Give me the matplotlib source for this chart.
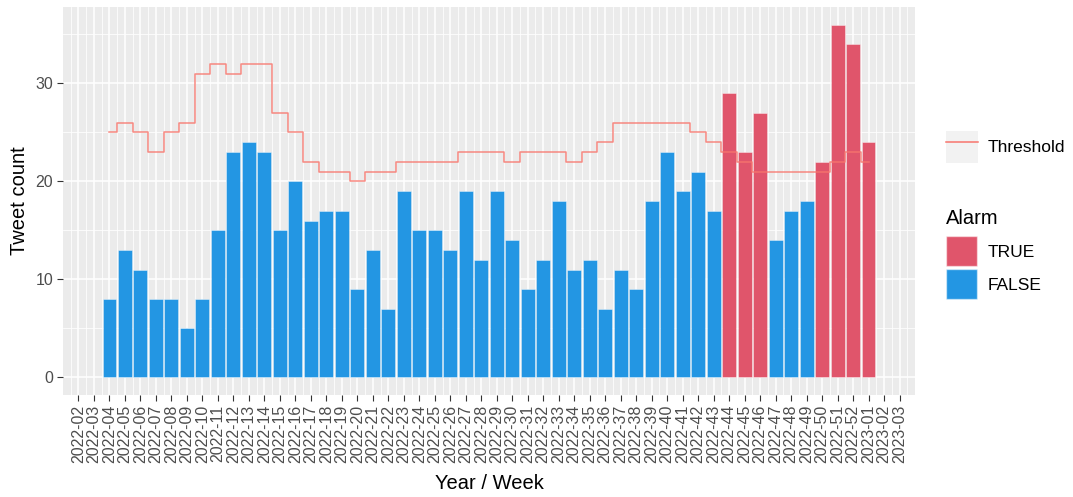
import matplotlib
matplotlib.use("Agg")
import matplotlib.pyplot as plt
from matplotlib.lines import Line2D
from matplotlib.patches import Patch
from matplotlib.ticker import MultipleLocator

# week categories shown on the axis
weeks = ([f"2022-{w:02d}" for w in range(2, 53)]
         + ["2023-01", "2023-02", "2023-03"])

# weeks with data (2022-04 .. 2023-01)
data_weeks = [f"2022-{w:02d}" for w in range(4, 53)] + ["2023-01"]

tweets = [8, 13, 11, 8, 8, 5, 8, 15, 23, 24, 23, 15, 20, 16, 17, 17, 9, 13, 7, 19,
          15, 15, 13, 19, 12, 19, 14, 9, 12, 18, 11, 12, 7, 11, 9, 18, 23, 19, 21, 17,
          29, 23, 27, 14, 17, 18, 22, 36, 34, 24]

threshold = [25, 26, 25, 23, 25, 26, 31, 32, 31, 32, 32, 27, 25, 22, 21, 21, 20, 21, 21, 22,
             22, 22, 22, 23, 23, 23, 22, 23, 23, 23, 22, 23, 24, 26, 26, 26, 26, 26, 25, 24,
             23, 22, 21, 21, 21, 21, 21, 22, 23, 22]

alarm = [t > th for t, th in zip(tweets, threshold)]

RED = "#E0556B"
BLUE = "#2396E3"
LINE = "#F8766D"

plt.rcParams["font.family"] = ["Liberation Sans", "DejaVu Sans"]

W, H = 1073, 497
TOP, BOT = 7, 395
fig = plt.figure(figsize=(W / 100, H / 100), dpi=100)
ax = fig.add_axes([63 / W, 1 - BOT / H, (915 - 63) / W, (BOT - TOP) / H])

pos = {w: i for i, w in enumerate(weeks)}
x = [pos[w] for w in data_weeks]
colors = [RED if a else BLUE for a in alarm]

ax.set_facecolor("#EBEBEB")
ax.bar(x, tweets, width=0.9, color=colors, edgecolor=(1, 1, 1, 0.45),
       linewidth=0.6, zorder=2)
ax.step(x, threshold, where="mid", color=LINE, lw=1.1, alpha=0.85, zorder=3)

ax.set_xlim(-1, len(weeks))
ax.set_ylim(-1.8, 37.8)
ax.set_xticks(range(len(weeks)))
ax.set_xticklabels(weeks, rotation=90)
ax.xaxis.set_minor_locator(MultipleLocator(1, offset=0.5))
ax.yaxis.set_major_locator(MultipleLocator(10))
ax.yaxis.set_minor_locator(MultipleLocator(5))
ax.grid(which="major", color="white", lw=1.1, zorder=0)
ax.grid(which="minor", color="white", lw=0.55, zorder=0)
ax.set_axisbelow(True)
for s in ax.spines.values():
    s.set_visible(False)
ax.tick_params(which="major", length=4, width=0.8, color="#333333",
               labelcolor="#4D4D4D", labelsize=11.5, pad=3)
ax.tick_params(which="minor", length=0)

ax.set_xlabel("Year / Week", fontsize=14.5, color="black")
ax.set_ylabel("Tweet count", fontsize=14.5, color="black")
ax.xaxis.set_label_coords(0.5, (BOT - 474) / (BOT - TOP))
ax.yaxis.set_label_coords((29 - 63) / 852, 0.5)

# legends
thr_handle = (Patch(facecolor="#F2F2F2", edgecolor="none"),
              Line2D([], [], color=LINE, lw=1.1))
leg1 = fig.legend([thr_handle], ["Threshold"], loc="upper left",
                  bbox_to_anchor=(946 / W, 1 - 131 / H), frameon=False,
                  fontsize=12.5, handlelength=1.84, handleheight=2.45,
                  handletextpad=0.57, borderpad=0, borderaxespad=0)

leg2 = fig.legend([Patch(facecolor=RED, edgecolor=(1, 1, 1, 0.5)),
                   Patch(facecolor=BLUE, edgecolor=(1, 1, 1, 0.5))],
                  ["TRUE", "FALSE"], title="Alarm", loc="upper left",
                  bbox_to_anchor=(946 / W, 1 - 209 / H), frameon=False,
                  fontsize=12.5, title_fontsize=14.5, handlelength=1.78,
                  handleheight=2.28, handletextpad=0.6, labelspacing=0.17,
                  borderpad=0, borderaxespad=0, alignment="left")
leg2._legend_box.sep = 6  # more room between title and keys

fig.savefig("out.png", dpi=100)
